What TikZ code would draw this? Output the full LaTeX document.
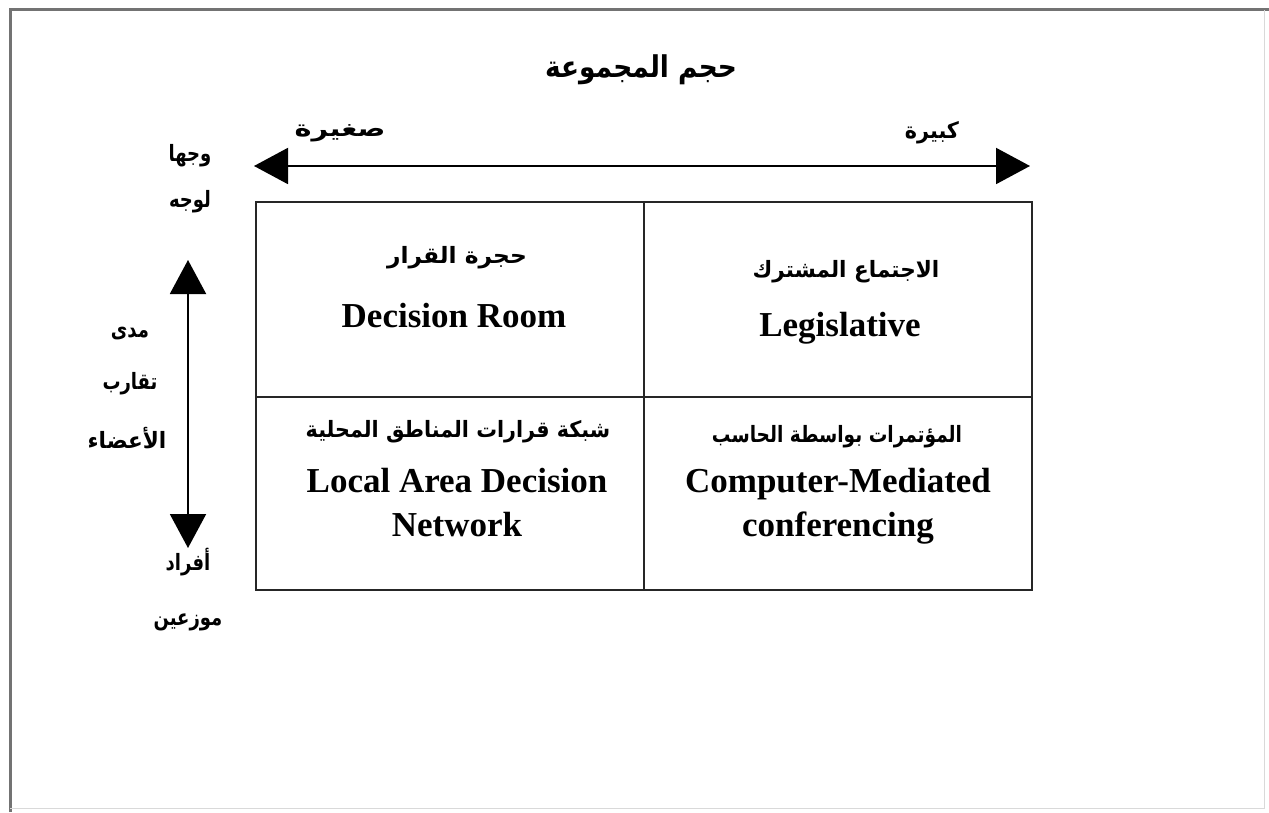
\documentclass[tikz,border=0pt]{standalone}
\usepackage{fontspec}
\setmainfont{Liberation Serif}
\newfontfamily\arabicfont[Script=Arabic]{DejaVu Sans}
\TeXXeTstate=1
\usetikzlibrary{arrows.meta}
\tikzset{
  ar/.style={font=\arabicfont\bfseries\fontsize{18}{22}\selectfont, inner sep=1pt, yscale=1.25, transform shape},
  en/.style={font=\bfseries\fontsize{35}{44}\selectfont, align=center, inner sep=1pt},
  cellline/.style={line width=1.8pt, draw=black!85},
  bigarrow/.style={line width=2pt, {Triangle[length=34pt,width=36pt]}-{Triangle[length=34pt,width=36pt]}},
}
\begin{document}
\begin{tikzpicture}[x=1pt,y=-1pt]
\useasboundingbox (0,0) rectangle (1269,813);
% outer frame
\draw[line width=3pt, black!55] (10,812) -- (10,10) -- (1269,10);
\draw[line width=1pt, black!15] (10,808) -- (1264,808) -- (1264,10);
% title
\node[ar, font=\arabicfont\bfseries\fontsize{24}{28}\selectfont, xscale=1.1] (title) at (641,70) {\beginR حجم المجموعة\endR};
% horizontal arrow
\coordinate (hl) at (254,166);
\coordinate (hr) at (1030,166);
\draw[bigarrow] (hl) -- (hr);
\node[ar, xscale=1.6] (small) at (340,133) {\beginR صغيرة\endR};
\node[ar, xscale=1.15] (large) at (932,133) {\beginR كبيرة\endR};
% grid
\draw[cellline] (256,202) rectangle (1032,590);
\coordinate (vt) at (644,202);
\coordinate (vb) at (644,590);
\coordinate (hml) at (256,397);
\coordinate (hmr) at (1032,397);
\draw[cellline] (vt) -- (vb);
\draw[cellline] (hml) -- (hmr);
% vertical arrow
\coordinate (vu) at (188,260);
\coordinate (vd) at (188,548);
\draw[bigarrow] (vu) -- (vd);
% left labels
\node[ar] (f1) at (190,156) {\beginR وجها\endR};
\node[ar] (f2) at (190,202) {\beginR لوجه\endR};
\node[ar] (m1) at (130,334) {\beginR مدى\endR};
\node[ar] (m2) at (130,384) {\beginR تقارب\endR};
\node[ar, xscale=1.2] (m3) at (127,438) {\beginR الأعضاء\endR};
\node[ar] (d1) at (188,562) {\beginR أفراد\endR};
\node[ar] (d2) at (188,622) {\beginR موزعين\endR};
% cells
\node[ar, xscale=1.3] (c1a) at (457,258) {\beginR حجرة القرار\endR};
\node[en] (c1e) at (454,316) {Decision Room};
\node[ar, xscale=1.2] (c2a) at (846,272) {\beginR الاجتماع المشترك\endR};
\node[en] (c2e) at (840,328) {Legislative};
\node[ar, xscale=1.15] (c3a) at (458,432) {\beginR شبكة قرارات المناطق المحلية\endR};
\node[en] (c3e) at (457,503) {Local Area Decision\\Network};
\node[ar, xscale=1.03] (c4a) at (837,437) {\beginR المؤتمرات بواسطة الحاسب\endR};
\node[en] (c4e) at (838,506) {Computer-Mediated\\conferencing};
\end{tikzpicture}
\end{document}
